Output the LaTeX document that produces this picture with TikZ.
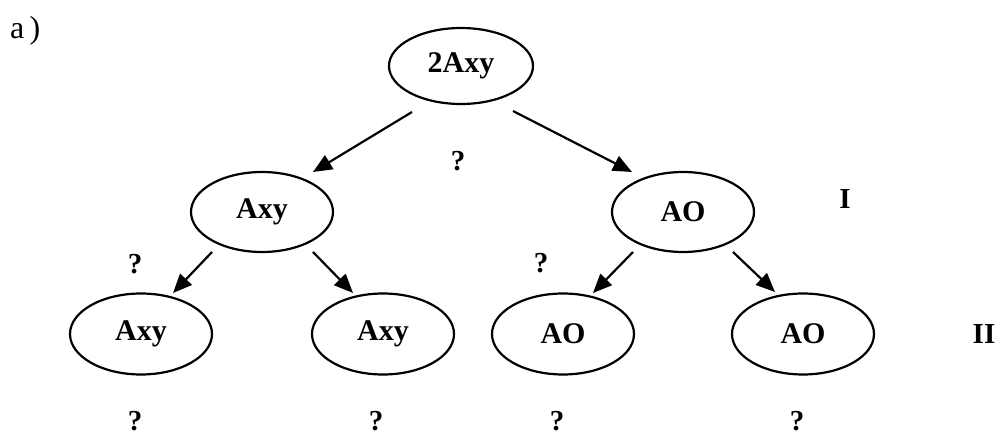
\documentclass[tikz,border=0pt]{standalone}
\usepackage{fontspec}
\setmainfont{Liberation Serif}
\usetikzlibrary{shapes.geometric,arrows.meta,calc}
\begin{document}
\begin{tikzpicture}[x=1pt,y=-1pt,
  ov/.style={ellipse,draw,line width=2.2pt,minimum width=142pt,minimum height=78pt,inner sep=0pt,
    font=\fontsize{30}{34}\selectfont\bfseries},
  lbl/.style={inner sep=0pt,font=\fontsize{29}{34}\selectfont\bfseries},
  arr/.style={line width=2.2pt,-{Triangle[length=19pt,width=16pt]}}]
\useasboundingbox (0,0) rectangle (1002,438);
\node[inner sep=0pt,anchor=west,font=\fontsize{32}{36}\selectfont] (lab) at (10,31) {a\,)};
\node[ov,minimum width=144pt,minimum height=76pt] (T) at (461,66) {2Axy};
\node[ov,minimum height=80pt] (L1) at (262,212) {Axy};
\node[ov,minimum height=80pt] (R1) at (683,212) {AO};
\node[ov,minimum height=81pt] (La) at (141,334) {Axy};
\node[ov,minimum height=81pt] (Lb) at (383,334) {Axy};
\node[ov,minimum height=81pt] (Lc) at (563,334) {AO};
\node[ov,minimum height=81pt] (Ld) at (803,334) {AO};
\draw[arr] ($(T)+(-49,46)$) -- ($(L1)+(51,-40)$);
\draw[arr] ($(T)+(52,45)$) -- ($(R1)+(-51,-40)$);
\draw[arr] ($(L1)+(-50,40)$) -- ($(La)+(32,-41)$);
\draw[arr] ($(L1)+(51,40)$) -- ($(Lb)+(-30,-41)$);
\draw[arr] ($(R1)+(-50,40)$) -- ($(Lc)+(30,-41)$);
\draw[arr] ($(R1)+(50,40)$) -- ($(Ld)+(-28,-42)$);
\node[lbl] (q0) at (458,161) {?};
\node[lbl] (q1) at (135,264) {?};
\node[lbl] (q2) at (541,263) {?};
\node[lbl] (q3) at (135,421) {?};
\node[lbl] (q4) at (376,421) {?};
\node[lbl] (q5) at (557,421) {?};
\node[lbl] (q6) at (797,421) {?};
\node[lbl] (one) at (845,199) {I};
\node[lbl] (two) at (984,334) {II};
\end{tikzpicture}
\end{document}
